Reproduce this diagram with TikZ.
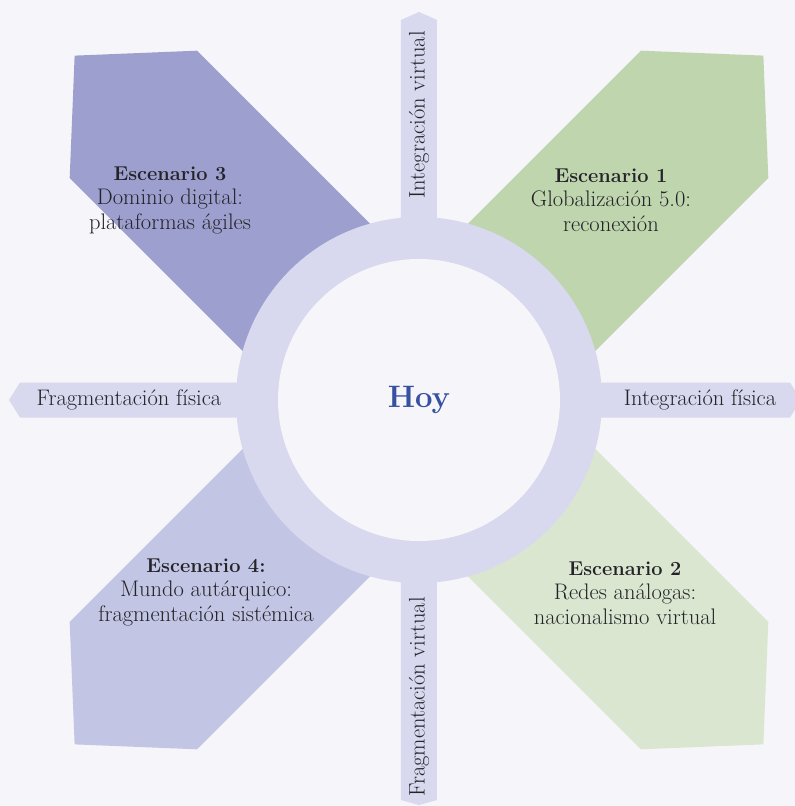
\documentclass[tikz,border=0pt]{standalone}
\usepackage{xcolor}
\usepackage{tikz}
\usetikzlibrary{positioning}

\definecolor{bgcol}{RGB}{245,245,250}
\definecolor{ringcol}{RGB}{216,216,238}
\definecolor{petalA}{RGB}{190,213,174}
\definecolor{petalB}{RGB}{218,230,208}
\definecolor{petalC}{RGB}{157,160,207}
\definecolor{petalD}{RGB}{195,197,228}
\definecolor{txtcol}{RGB}{35,35,40}
\definecolor{hoycol}{RGB}{55,80,160}

\newcommand{\esctitle}[1]{{\fontsize{20}{24.5}\selectfont\bfseries #1}}

\begin{document}
\begin{tikzpicture}[x=1pt, y=1pt,
    lbl/.style={font=\fontsize{22.5}{24.5}\selectfont, text=txtcol, align=center, inner sep=0pt},
    axislbl/.style={font=\fontsize{22.5}{24}\selectfont, text=txtcol, inner sep=0pt}]
    % 背景
    \fill[bgcol] (-419, 400) rectangle (376, -406);
    \useasboundingbox (-419, 400) rectangle (376, -406);

    % 四个情景（花瓣）
    \foreach \ang/\col in {45/petalA, 315/petalB, 135/petalC, 225/petalD}
        \fill[\col, rotate=\ang] (0, -90) -- (404, -90) -- (487, 0) -- (404, 90) -- (0, 90) -- cycle;

    % 两条轴
    \fill[ringcol] (-399, 17.5) -- (371, 17.5) -- (382, 0) -- (371, -17.5)
        -- (-399, -17.5) -- (-410, 0) -- cycle;
    \fill[ringcol] (-18, 380) -- (0, 388) -- (18, 380) -- (18, -400)
        -- (0, -405) -- (-18, -400) -- cycle;

    % 中心圆环
    \fill[ringcol] (0, 0) circle (183);
    \node[circle, fill=bgcol, minimum size=282pt, inner sep=0pt, text=hoycol,
        font=\bfseries\fontsize{31}{31}\selectfont] (hoy) at (0, 0) {Hoy};

    % 情景文字
    \node[lbl] (esc1) at (192, 200) {\esctitle{Escenario 1}\\Globalización 5.0:\\reconexión};
    \node[lbl] (esc2) at (206, -193) {\esctitle{Escenario 2}\\Redes análogas:\\nacionalismo virtual};
    \node[lbl] (esc3) at (-249, 200) {\esctitle{Escenario 3}\\Dominio digital:\\plataformas ágiles};
    \node[lbl] (esc4) at (-213, -192) {\esctitle{Escenario 4:}\\Mundo autárquico:\\fragmentación sistémica};

    % 轴标签
    \node[axislbl] (fisneg) at (-290, 0) {Fragmentación física};
    \node[axislbl] (fispos) at (281, 0) {Integración física};
    \node[axislbl, rotate=90] (virpos) at (0, 285) {Integración virtual};
    \node[axislbl, rotate=90] (virneg) at (0, -297) {Fragmentación virtual};
\end{tikzpicture}
\end{document}
